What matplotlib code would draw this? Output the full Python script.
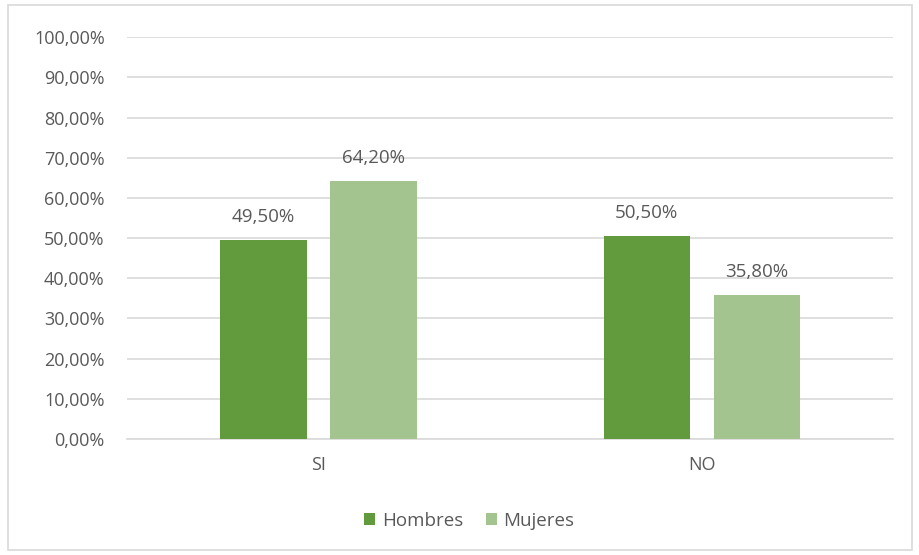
import matplotlib.pyplot as plt
from matplotlib.patches import Rectangle
from matplotlib.ticker import FuncFormatter

categories = ["SI", "NO"]
hombres = [49.5, 50.5]
mujeres = [64.2, 35.8]
series_names = ["Hombres", "Mujeres"]

TEXT = "#595959"
C_H = "#629A3E"
C_M = "#A3C48F"

plt.rcParams['font.family'] = ['Open Sans', 'DejaVu Sans']

def pct(v, pos=None):
    return ("%.2f%%" % v).replace(".", ",")

fig = plt.figure(figsize=(9.2, 5.55), dpi=100)
ax = fig.add_axes([0.138, 0.209, 0.833, 0.724])

# grey frame around the whole chart
fig.patches.append(Rectangle((8/920, 5/555), 904/920, 545/555, transform=fig.transFigure,
                             fill=False, edgecolor="#D9D9D9", linewidth=1.2))

x = list(range(len(categories)))
w = 0.225
off = w/2 + 0.031
b1 = ax.bar([i - off for i in x], hombres, w, color=C_H, label=series_names[0], zorder=3)
b2 = ax.bar([i + off for i in x], mujeres, w, color=C_M, label=series_names[1], zorder=3)

for bars, vals in ((b1, hombres), (b2, mujeres)):
    for r, v in zip(bars, vals):
        ax.annotate(pct(v), (r.get_x() + r.get_width()/2, v), xytext=(0, 10),
                    textcoords="offset points", ha="center", va="bottom",
                    fontsize=13.5, color=TEXT)

ax.set_xlim(-0.5, 1.5)
ax.set_ylim(0, 100)
ax.set_yticks(range(0, 101, 10))
ax.yaxis.set_major_formatter(FuncFormatter(pct))
ax.set_xticks(x)
ax.set_xticklabels(categories)
ax.tick_params(axis="y", length=0, pad=16, labelsize=13, labelcolor=TEXT)
ax.tick_params(axis="x", length=0, pad=12, labelsize=13, labelcolor=TEXT)
ax.grid(axis="y", color="#D9D9D9", linewidth=1.2, zorder=0)
for s in ("top", "right", "left"):
    ax.spines[s].set_visible(False)
ax.spines["bottom"].set_color("#D9D9D9")
ax.spines["bottom"].set_linewidth(1.2)

leg = fig.legend(loc="center", bbox_to_anchor=(0.51, 0.062), ncol=2, frameon=False,
                 fontsize=13.5, handlelength=0.6, handleheight=0.6, handletextpad=0.35,
                 columnspacing=1.2)
for t in leg.get_texts():
    t.set_color(TEXT)

fig.savefig("out.png", dpi=100)
